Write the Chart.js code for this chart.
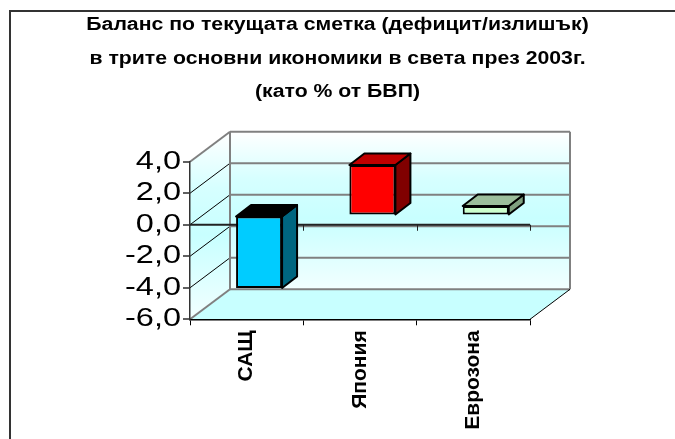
<!DOCTYPE html>
<html>
<head>
<meta charset="utf-8">
<script src="https://cdn.jsdelivr.net/npm/chart.js@4/dist/chart.umd.min.js"></script>
<style>
  html, body { margin: 0; padding: 0; background: #fff; }
  canvas { display: block; }
</style>
</head>
<body>
<canvas id="chart" width="675" height="439"></canvas>
<script>
// Current account balance, % of GDP, 2003
const categories = ['САЩ', 'Япония', 'Еврозона'];
const balance = [-4.6, 3.2, 0.6];
const yRange = [-6, 4];
const yStep = 2;
const titleLines = [
  'Баланс по текущата сметка (дефицит/излишък)',
  'в трите основни икономики в света през 2003г.',
  '(като % от БВП)'
];

// bar colours: front / side / top
const frontColors = ['#00ccff', '#ff0000', '#ccffcc'];
const sideColors = ['#006680', '#800000', '#7fa07f'];
const topColors = ['#000000', '#c00000', '#9cbf9c'];

const FONT = "'Liberation Sans', Arial, sans-serif";
const DEPTH = { x: 40, y: -30 };        // depth of the walls
const BAR_OFF = { x: 12.4, y: -9.3 };   // where the bar front sits in depth
const BAR_DEPTH = { x: 15, y: -11.5 };  // bar thickness in depth

function poly(ctx, pts) {
  ctx.beginPath();
  pts.forEach((p, i) => i ? ctx.lineTo(p[0], p[1]) : ctx.moveTo(p[0], p[1]));
  ctx.closePath();
}
function line(ctx, x1, y1, x2, y2) {
  ctx.beginPath();
  ctx.moveTo(x1, y1);
  ctx.lineTo(x2, y2);
  ctx.stroke();
}
function wallGradient(ctx, top, bottom) {
  const g = ctx.createLinearGradient(0, top, 0, bottom);
  g.addColorStop(0, '#ffffff');
  g.addColorStop(0.3, '#d6ffff');
  g.addColorStop(0.55, '#c8ffff');
  g.addColorStop(1, '#f2ffff');
  return g;
}

// wide Excel-style lettering: stretch a box's text horizontally around originX
function stretchX(target, method, originX, factor) {
  const orig = target[method];
  target[method] = function (...args) {
    const ctx = this.ctx;
    const ox = originX(this);
    ctx.save();
    ctx.translate(ox, 0);
    ctx.scale(factor, 1);
    ctx.translate(-ox, 0);
    orig.apply(this, args);
    ctx.restore();
  };
}

// walls, floor, depth gridlines and the 3D sides of the bars
const box3d = {
  id: 'box3d',
  afterLayout(chart) {
    if (chart._wideText) return;
    chart._wideText = true;
    stretchX(chart.scales.y, 'drawLabels', s => s.right - 9, 1.3);
    stretchX(chart.titleBlock, 'draw', b => (b.left + b.right) / 2, 1.18);
  },
  beforeDraw(chart) {
    const { ctx, chartArea: a, scales: { y } } = chart;
    const dx = DEPTH.x, dy = DEPTH.y;
    ctx.save();

    // outer frame
    ctx.strokeStyle = '#333';
    ctx.lineWidth = 2;
    ctx.strokeRect(10, 11, chart.width, chart.height);

    // back wall
    ctx.fillStyle = wallGradient(ctx, a.top + dy, a.bottom + dy);
    ctx.fillRect(a.left + dx, a.top + dy, a.right - a.left, a.bottom - a.top);
    // left wall
    ctx.fillStyle = wallGradient(ctx, a.top + dy, a.bottom);
    poly(ctx, [[a.left, a.top], [a.left + dx, a.top + dy], [a.left + dx, a.bottom + dy], [a.left, a.bottom]]);
    ctx.fill();
    // floor
    ctx.fillStyle = '#c8ffff';
    poly(ctx, [[a.left, a.bottom], [a.right, a.bottom], [a.right + dx, a.bottom + dy], [a.left + dx, a.bottom + dy]]);
    ctx.fill();

    // gridlines on back and left wall
    y.ticks.forEach(t => {
      const py = y.getPixelForValue(t.value);
      const edge = t.value === y.min || t.value === y.max;
      ctx.strokeStyle = '#808080';
      ctx.lineWidth = 2;
      line(ctx, a.left + dx, py + dy, a.right + dx, py + dy);
      ctx.strokeStyle = edge ? '#808080' : '#000';
      ctx.lineWidth = edge ? 2 : 1;
      line(ctx, a.left, py, a.left + dx, py + dy);
    });
    ctx.strokeStyle = '#808080';
    ctx.lineWidth = 2;
    line(ctx, a.left + dx, a.top + dy, a.left + dx, a.bottom + dy);
    line(ctx, a.right + dx, a.top + dy, a.right + dx, a.bottom + dy);
    ctx.strokeStyle = '#000';
    ctx.lineWidth = 1;
    line(ctx, a.right, a.bottom, a.right + dx, a.bottom + dy);
    ctx.restore();
  },
  beforeDatasetsDraw(chart) {
    const { ctx, chartArea: a, scales: { y } } = chart;

    // category axis at zero
    const y0 = y.getPixelForValue(0);
    const cw = (a.right - a.left) / categories.length;
    ctx.save();
    ctx.strokeStyle = '#222';
    ctx.lineWidth = 2;
    line(ctx, a.left, y0, a.right, y0);
    ctx.lineWidth = 1;
    for (let i = 1; i <= categories.length; i++) {
      const px = Math.round(a.left + i * cw) + 0.5;
      line(ctx, px, y0, px, y0 + 6);
    }

    // side and top faces of the bars
    const meta = chart.getDatasetMeta(0);
    ctx.strokeStyle = '#000';
    ctx.lineWidth = 2;
    ctx.lineJoin = 'round';
    meta.data.forEach((bar, i) => {
      const l = bar.x - bar.width / 2 + BAR_OFF.x;
      const r = bar.x + bar.width / 2 + BAR_OFF.x;
      const t = Math.min(bar.y, bar.base) + BAR_OFF.y;
      const b = Math.max(bar.y, bar.base) + BAR_OFF.y;
      const bx = BAR_DEPTH.x, by = BAR_DEPTH.y;
      ctx.fillStyle = sideColors[i];
      poly(ctx, [[r, t], [r + bx, t + by], [r + bx, b + by], [r, b]]);
      ctx.fill();
      ctx.stroke();
      ctx.fillStyle = topColors[i];
      poly(ctx, [[l, t], [l + bx, t + by], [r + bx, t + by], [r, t]]);
      ctx.fill();
      ctx.stroke();
    });
    ctx.restore();

    // front faces are drawn by the bar controller, pushed back into depth
    ctx.save();
    ctx.translate(BAR_OFF.x, BAR_OFF.y);
  },
  afterDatasetsDraw(chart) {
    chart.ctx.restore();
  }
};

new Chart(document.getElementById('chart'), {
  type: 'bar',
  data: {
    labels: categories,
    datasets: [{
      data: balance,
      backgroundColor: frontColors,
      borderColor: '#000',
      borderWidth: 2,
      borderSkipped: false,
      barPercentage: 0.406,
      categoryPercentage: 1,
      clip: false
    }]
  },
  options: {
    responsive: false,
    devicePixelRatio: 1,
    animation: false,
    layout: { padding: 0 },
    plugins: {
      legend: { display: false },
      tooltip: { enabled: false },
      title: {
        display: true,
        text: titleLines,
        color: '#000',
        font: { family: FONT, size: 18, weight: 'bold', lineHeight: 1.856 },
        padding: { top: 8.5, bottom: 53 }
      }
    },
    scales: {
      x: {
        grid: { offset: true, drawOnChartArea: false, drawTicks: true, tickLength: 6, color: '#000', lineWidth: 1 },
        border: { display: true, color: '#000', width: 1.5 },
        ticks: {
          color: '#000',
          font: { family: FONT, size: 21, weight: 'bold' },
          minRotation: 90,
          maxRotation: 90,
          padding: 5
        },
        afterFit(axis) { axis.height = 119.7; }
      },
      y: {
        min: yRange[0],
        max: yRange[1],
        grid: { drawOnChartArea: false, drawTicks: true, tickLength: 7, color: '#606060', lineWidth: 2 },
        border: { display: true, color: '#333', width: 1.5 },
        ticks: {
          stepSize: yStep,
          autoSkip: false,
          color: '#000',
          font: { family: FONT, size: 25 },
          padding: 2,
          callback: v => v.toFixed(1).replace('.', ',')
        },
        afterFit(axis) { axis.width = 190; }
      },
      // empty right-hand axis that only reserves the space right of the plot
      spacer: {
        position: 'right',
        display: true,
        grid: { display: false },
        border: { display: false },
        ticks: { display: false },
        afterFit(axis) { axis.width = 145; }
      }
    }
  },
  plugins: [box3d]
});
</script>
</body>
</html>
